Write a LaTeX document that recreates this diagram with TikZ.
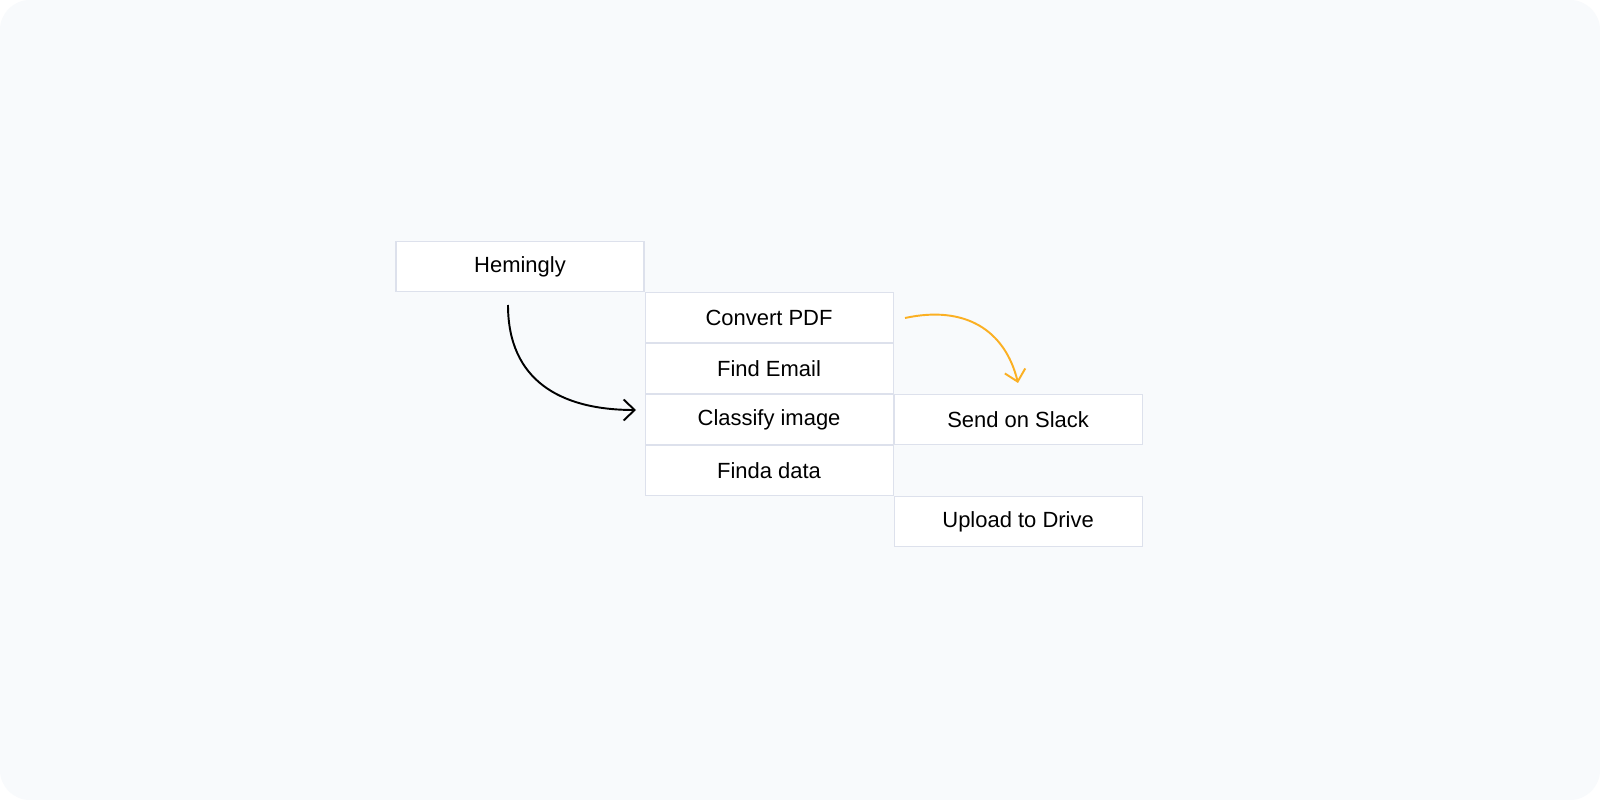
\documentclass[tikz,border=0pt]{standalone}
\usepackage{fontspec}
\setmainfont{Liberation Sans}
\usetikzlibrary{positioning,arrows.meta}
\definecolor{bgpanel}{HTML}{F8FAFC}
\definecolor{cellline}{HTML}{DDE1EC}
\definecolor{flowyellow}{HTML}{FBB023}
\tikzset{
  cell/.style={draw=cellline, line width=0.6pt, fill=white, minimum width=4.96cm,
    minimum height=1cm, inner sep=0pt, font=\fontsize{12.5}{15}\selectfont},
  flow/.style={line width=1.1pt, -{Straight Barb[length=2.2mm,width=4.2mm]}}
}
\begin{document}
\begin{tikzpicture}
			% Nền
			\fill[white] (0,0) rectangle (32,-16);
			\fill[bgpanel, rounded corners=0.6cm] (0,0) rectangle (32,-16);
			\useasboundingbox (0,0) rectangle (32,-16);
			% Ô đầu
			\node[cell] (hemingly) at (10.4,-5.33) {Hemingly};
			% Cột thứ hai
			\node[cell, anchor=north west] (convert) at (hemingly.south east) {Convert PDF};
			\node[cell, below=0pt of convert] (email) {Find Email};
			\node[cell, below=0pt of email] (classify) {Classify image};
			\node[cell, below=0pt of classify] (finda) {Finda data};
			% Cột thứ ba
			\node[cell, anchor=north west] (slack) at (classify.north east) {Send on Slack};
			\node[cell, anchor=north west] (drive) at (finda.south east) {Upload to Drive};
			% Mũi tên
			\coordinate (h-out) at (10.16,-6.1);
			\coordinate (c-in) at (12.72,-8.2);
			\draw[flow, black] (h-out) .. controls (10.16,-7.6) and (11.2,-8.2) .. (c-in);
			\coordinate (p-out) at (18.1,-6.36);
			\coordinate (s-in) at (20.36,-7.66);
			\draw[flow, flowyellow] (p-out) .. controls (19.3,-6.1) and (20.1,-6.6) .. (s-in);
	\end{tikzpicture}
\end{document}
